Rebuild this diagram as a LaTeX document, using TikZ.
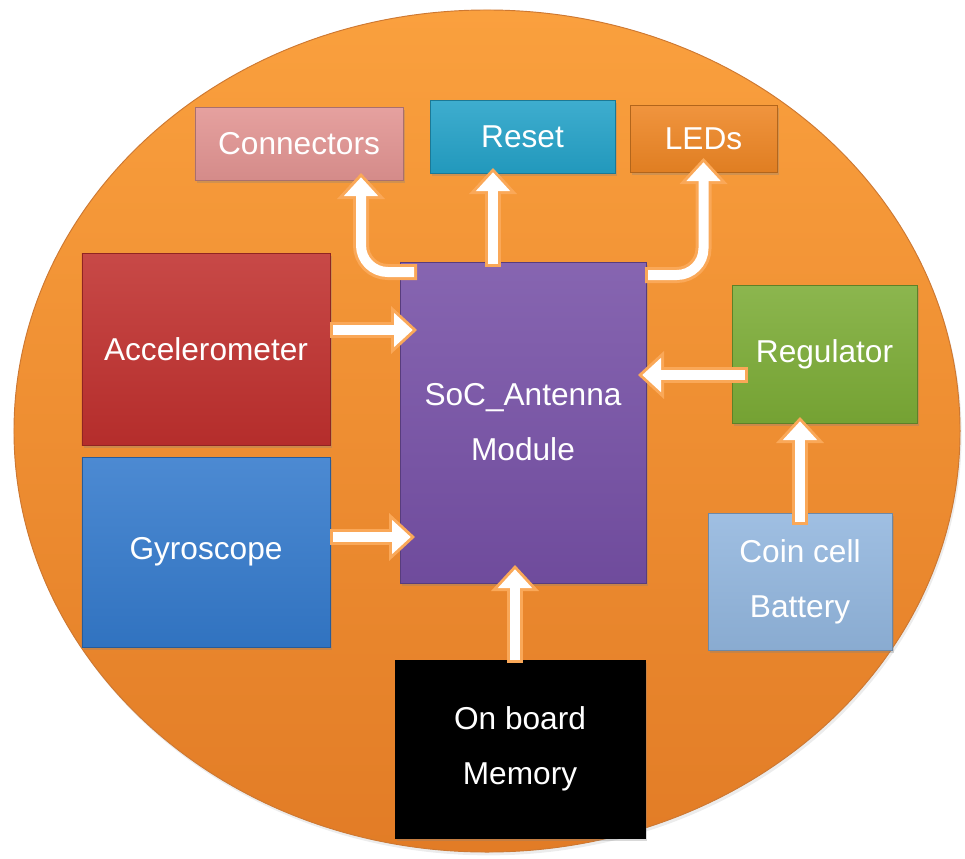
\documentclass[tikz,border=0pt]{standalone}
\usepackage{fontspec}
\setmainfont{Liberation Sans}
\usetikzlibrary{arrows.meta,calc,shadows}
\definecolor{boardtop}{RGB}{250,160,62}
\definecolor{boardbot}{RGB}{226,124,38}
\definecolor{boardedge}{RGB}{205,120,50}
\definecolor{flowedge}{RGB}{250,168,88}
\definecolor{connpink}{RGB}{226,148,146}
\definecolor{resetcyan}{RGB}{36,162,200}
\definecolor{ledorange}{RGB}{238,134,36}
\definecolor{accred}{RGB}{192,48,46}
\definecolor{gyroblue}{RGB}{52,122,204}
\definecolor{socpurple}{RGB}{118,80,166}
\definecolor{reggreen}{RGB}{124,172,54}
\definecolor{batblue}{RGB}{146,182,222}
\begin{document}
\begin{tikzpicture}[x=0.03cm,y=-0.03cm,
  unit/.style={draw=#1!75!black, line width=0.6pt, top color=#1!88!white, bottom color=#1!94!black,
    inner sep=0pt, outer sep=0pt, text=white, align=center,
    font=\fontsize{27}{47}\selectfont,
    drop shadow={opacity=0.3,shadow xshift=0.06cm,shadow yshift=-0.08cm}},
  flow/.style={draw=white, line width=0.3cm, rounded corners=0.8cm,
    -{Triangle[length=0.56cm,width=1.03cm,line width=0pt]},
    shorten >=0.13cm, shorten <=0.09cm,
    preaction={draw=flowedge, line width=0.48cm, shorten >=0pt, shorten <=0pt,
      -{Triangle[length=0.78cm,width=1.44cm,line width=0pt]}}}]
\useasboundingbox (0,0) rectangle (965,858);
\shade[top color=boardtop, bottom color=boardbot, draw=boardedge, line width=0.8pt,
  drop shadow={opacity=0.15,shadow xshift=0.05cm,shadow yshift=-0.1cm}]
  (487,431) ellipse [x radius=14.19cm, y radius=12.63cm];

\node[unit=connpink, minimum width=6.24cm, minimum height=2.19cm] (conn) at (299,143.5) {Connectors};
\node[unit=resetcyan, minimum width=5.55cm, minimum height=2.19cm] (reset) at (522.5,136.5) {Reset};
\node[unit=ledorange, minimum width=4.41cm, minimum height=2.01cm] (leds) at (703.5,138.5) {LEDs};
\node[unit=accred, minimum width=7.44cm, minimum height=5.76cm] (acc) at (206,349) {Accelerometer};
\node[unit=gyroblue, minimum width=7.44cm, minimum height=5.70cm] (gyro) at (206,552) {Gyroscope};
\node[unit=socpurple, minimum width=7.38cm, minimum height=9.63cm] (soc) at (523,422.5) {SoC\_Antenna\\Module};
\node[unit=reggreen, minimum width=5.55cm, minimum height=4.14cm] (reg) at (824.5,354) {Regulator};
\node[unit=batblue, minimum width=5.52cm, minimum height=4.11cm] (bat) at (800,581.5) {Coin cell\\Battery};
\node[unit=black, top color=black, bottom color=black, minimum width=7.50cm, minimum height=5.34cm] (mem) at (520,749) {On board\\Memory};

\draw[flow] ($(acc.east)+(0,-19)$) -- ($(soc.west)+(17,-92.5)$);
\draw[flow] ($(gyro.east)+(0,-15)$) -- ($(soc.west)+(15,114.5)$);
\draw[flow] ($(reg.west)+(16,21)$) -- ($(soc.east)+(-8,-47.5)$);
\draw[flow] ($(bat.north)+(0,12)$) -- ($(reg.south)+(-24.5,-6)$);
\draw[flow] ($(mem.north)+(-5,3)$) -- ($(soc.south)+(-8,-18)$);
\draw[flow] ($(soc.north)+(-30,5)$) -- ($(reset.south)+(-29.5,-5)$);
\draw[flow] ($(soc.north west)+(17,10)$) -| ($(conn.south)+(62,-7)$);
\draw[flow] ($(soc.north east)+(-1,13)$) -| ($(leds.south)+(0,-14)$);
\end{tikzpicture}
\end{document}
